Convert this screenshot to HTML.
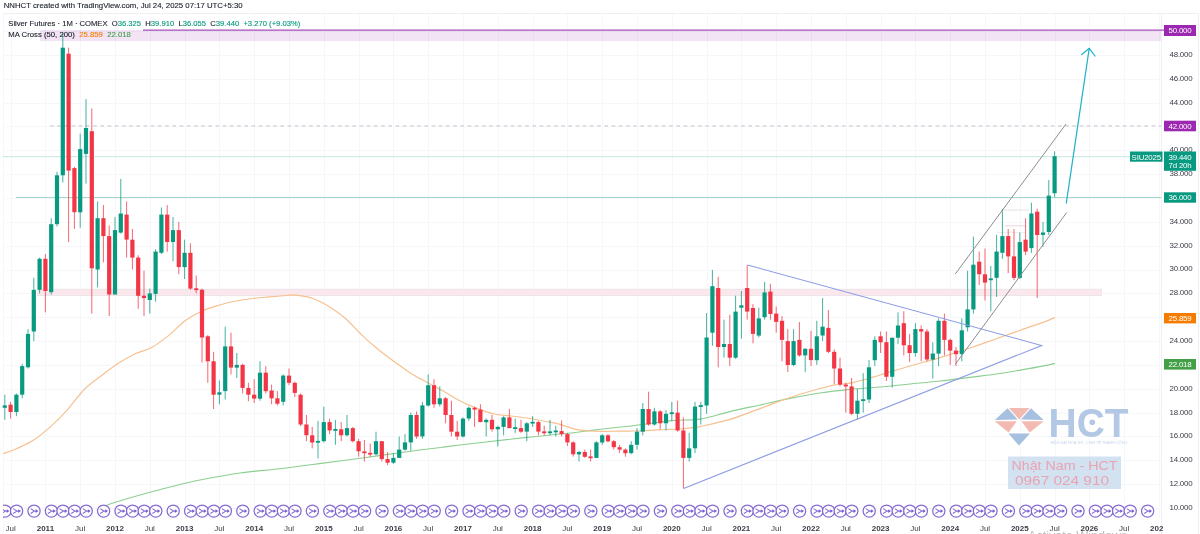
<!DOCTYPE html>
<html lang="en"><head><meta charset="utf-8"><title>Silver Futures chart</title>
<style>html,body{margin:0;padding:0;background:#fff;overflow:hidden}body{width:1200px;height:534px;position:relative;font-family:"Liberation Sans",sans-serif}</style></head>
<body>
<svg width="1200" height="534" viewBox="0 0 1200 534" style="position:absolute;left:0;top:0;display:block">
<rect width="1200" height="534" fill="#fff"/>
<g stroke="#f6f7fa" stroke-width="1" shape-rendering="crispEdges">
<line x1="3" y1="508.5" x2="1161" y2="508.5"/>
<line x1="3" y1="484.5" x2="1161" y2="484.5"/>
<line x1="3" y1="460.5" x2="1161" y2="460.5"/>
<line x1="3" y1="436.5" x2="1161" y2="436.5"/>
<line x1="3" y1="413.5" x2="1161" y2="413.5"/>
<line x1="3" y1="389.5" x2="1161" y2="389.5"/>
<line x1="3" y1="365.5" x2="1161" y2="365.5"/>
<line x1="3" y1="341.5" x2="1161" y2="341.5"/>
<line x1="3" y1="317.5" x2="1161" y2="317.5"/>
<line x1="3" y1="293.5" x2="1161" y2="293.5"/>
<line x1="3" y1="270.5" x2="1161" y2="270.5"/>
<line x1="3" y1="246.5" x2="1161" y2="246.5"/>
<line x1="3" y1="222.5" x2="1161" y2="222.5"/>
<line x1="3" y1="198.5" x2="1161" y2="198.5"/>
<line x1="3" y1="174.5" x2="1161" y2="174.5"/>
<line x1="3" y1="150.5" x2="1161" y2="150.5"/>
<line x1="3" y1="126.5" x2="1161" y2="126.5"/>
<line x1="3" y1="103.5" x2="1161" y2="103.5"/>
<line x1="3" y1="79.5" x2="1161" y2="79.5"/>
<line x1="3" y1="55.5" x2="1161" y2="55.5"/>
<line x1="3" y1="31.5" x2="1161" y2="31.5"/>
<line x1="11.5" y1="13" x2="11.5" y2="518"/>
<line x1="45.5" y1="13" x2="45.5" y2="518"/>
<line x1="80.5" y1="13" x2="80.5" y2="518"/>
<line x1="115.5" y1="13" x2="115.5" y2="518"/>
<line x1="150.5" y1="13" x2="150.5" y2="518"/>
<line x1="185.5" y1="13" x2="185.5" y2="518"/>
<line x1="219.5" y1="13" x2="219.5" y2="518"/>
<line x1="254.5" y1="13" x2="254.5" y2="518"/>
<line x1="289.5" y1="13" x2="289.5" y2="518"/>
<line x1="324.5" y1="13" x2="324.5" y2="518"/>
<line x1="359.5" y1="13" x2="359.5" y2="518"/>
<line x1="393.5" y1="13" x2="393.5" y2="518"/>
<line x1="428.5" y1="13" x2="428.5" y2="518"/>
<line x1="463.5" y1="13" x2="463.5" y2="518"/>
<line x1="498.5" y1="13" x2="498.5" y2="518"/>
<line x1="533.5" y1="13" x2="533.5" y2="518"/>
<line x1="567.5" y1="13" x2="567.5" y2="518"/>
<line x1="602.5" y1="13" x2="602.5" y2="518"/>
<line x1="637.5" y1="13" x2="637.5" y2="518"/>
<line x1="672.5" y1="13" x2="672.5" y2="518"/>
<line x1="707.5" y1="13" x2="707.5" y2="518"/>
<line x1="741.5" y1="13" x2="741.5" y2="518"/>
<line x1="776.5" y1="13" x2="776.5" y2="518"/>
<line x1="811.5" y1="13" x2="811.5" y2="518"/>
<line x1="846.5" y1="13" x2="846.5" y2="518"/>
<line x1="881.5" y1="13" x2="881.5" y2="518"/>
<line x1="915.5" y1="13" x2="915.5" y2="518"/>
<line x1="950.5" y1="13" x2="950.5" y2="518"/>
<line x1="985.5" y1="13" x2="985.5" y2="518"/>
<line x1="1020.5" y1="13" x2="1020.5" y2="518"/>
<line x1="1055.5" y1="13" x2="1055.5" y2="518"/>
<line x1="1089.5" y1="13" x2="1089.5" y2="518"/>
<line x1="1124.5" y1="13" x2="1124.5" y2="518"/>
<line x1="1159.5" y1="13" x2="1159.5" y2="518"/>
</g>
<g stroke="#eff0f4" stroke-width="1" shape-rendering="crispEdges"><line x1="3" y1="13.5" x2="1198" y2="13.5"/><line x1="1161.5" y1="13" x2="1161.5" y2="534"/><line x1="1198.5" y1="13" x2="1198.5" y2="534"/><line x1="3.5" y1="13" x2="3.5" y2="534" stroke="#f6f7fa"/></g>
<rect x="40" y="30" width="1121" height="11" fill="#9c27b0" fill-opacity="0.13"/>
<line x1="143" y1="30.2" x2="1164" y2="30.2" stroke="#a552b8" stroke-width="1.2"/>
<rect x="37" y="289.2" width="1065" height="6.4" fill="#fae8ec"/>
<path d="M37,289.3 H1102 M37,295.6 H1102" fill="none" stroke="#e6dfe6" stroke-width="0.8"/>
<line x1="50" y1="126" x2="1161" y2="126" stroke="#c6c0cc" stroke-width="1.1" stroke-dasharray="3.6 3.6"/>
<line x1="16" y1="197.5" x2="1161" y2="197.5" stroke="#a5d6cc" stroke-width="1.2"/>
<line x1="3" y1="156.7" x2="1161" y2="156.7" stroke="#bfe3dc" stroke-width="0.9"/>
<line x1="1002" y1="210" x2="1029" y2="210" stroke="#e2e2e2" stroke-width="1"/>
<line x1="1005" y1="225.8" x2="1026" y2="225.8" stroke="#f3dde3" stroke-width="1.3"/>
<line x1="997" y1="232.7" x2="1025" y2="232.7" stroke="#ececec" stroke-width="1"/>
<path d="M104.0,507.0 C105.0,506.5 104.0,506.0 110.0,504.0 C116.0,502.0 130.0,497.8 140.0,495.0 C150.0,492.2 160.0,489.5 170.0,487.0 C180.0,484.5 188.3,482.3 200.0,480.0 C211.7,477.7 226.7,474.9 240.0,473.0 C253.3,471.1 266.5,470.3 280.0,468.7 C293.5,467.1 307.5,465.2 321.2,463.4 C334.9,461.6 348.7,459.9 362.4,458.0 C376.1,456.1 389.9,454.1 403.6,452.2 C417.3,450.3 431.1,448.6 444.8,446.9 C458.5,445.2 472.3,443.6 486.0,442.0 C499.7,440.4 513.5,438.8 527.2,437.4 C540.9,435.9 556.7,434.6 568.4,433.3 C580.1,432.0 586.4,430.9 597.5,429.6 C608.6,428.3 622.6,427.0 635.0,425.5 C647.4,424.0 661.2,421.7 672.0,420.6 C682.8,419.5 690.3,420.6 700.0,419.1 C709.7,417.6 720.0,414.0 730.0,411.6 C740.0,409.2 750.0,407.2 760.0,405.0 C770.0,402.8 780.0,400.4 790.0,398.4 C800.0,396.4 810.0,394.5 820.0,393.0 C830.0,391.5 840.0,390.4 850.0,389.4 C860.0,388.4 870.0,387.9 880.0,387.0 C890.0,386.1 900.0,385.0 910.0,384.0 C920.0,383.0 930.0,382.1 940.0,381.0 C950.0,379.9 960.0,378.6 970.0,377.4 C980.0,376.1 990.0,375.0 1000.0,373.5 C1010.0,372.0 1020.8,370.0 1030.0,368.4 C1039.2,366.8 1050.8,364.4 1055.0,363.6" fill="none" stroke="#8ccf90" stroke-width="1.1"/>
<path d="M3.4,453.6 C5.6,452.8 11.8,450.8 16.9,448.5 C21.9,446.2 28.1,443.6 33.7,440.0 C39.3,436.4 45.0,431.6 50.6,426.6 C56.2,421.6 61.8,416.0 67.4,409.8 C73.0,403.6 78.7,395.1 84.3,389.5 C89.9,383.9 95.4,380.3 101.0,376.0 C106.6,371.7 112.4,367.3 118.0,363.6 C123.6,359.9 129.2,356.7 134.8,354.0 C140.4,351.3 146.1,350.5 151.7,347.4 C157.3,344.3 162.9,340.1 168.5,335.6 C174.1,331.1 179.8,324.5 185.4,320.4 C191.0,316.3 196.6,313.5 202.2,311.0 C207.8,308.5 213.4,307.0 219.0,305.3 C224.6,303.6 230.4,302.1 236.0,301.0 C241.6,299.9 247.2,299.2 252.8,298.5 C258.4,297.8 264.0,297.4 269.6,296.9 C275.2,296.4 282.0,295.8 286.5,295.5 C291.0,295.2 292.1,294.7 296.5,295.2 C300.9,295.7 307.5,296.6 313.0,298.5 C318.5,300.4 323.9,303.4 329.4,306.8 C334.9,310.2 340.5,314.2 346.0,319.0 C351.5,323.8 356.9,330.4 362.4,335.6 C367.9,340.8 373.4,345.5 378.9,350.0 C384.4,354.5 389.9,358.4 395.4,362.4 C400.9,366.4 406.4,370.6 411.9,374.0 C417.4,377.4 422.8,380.0 428.3,383.0 C433.8,386.0 439.3,388.9 444.8,392.0 C450.3,395.1 455.8,398.7 461.3,401.5 C466.8,404.3 472.3,406.5 477.8,408.6 C483.3,410.7 488.8,412.8 494.3,414.0 C499.8,415.2 505.2,415.3 510.7,416.0 C516.2,416.7 521.7,417.2 527.2,418.0 C532.7,418.8 538.2,419.9 543.7,421.0 C549.2,422.1 555.0,423.0 560.2,424.4 C565.4,425.8 570.0,428.1 575.0,429.2 C580.0,430.3 585.0,430.6 590.0,431.0 C595.0,431.4 600.0,431.3 605.0,431.3 C610.0,431.3 615.0,431.2 620.0,431.2 C625.0,431.1 630.0,431.1 635.0,431.0 C640.0,430.9 645.0,430.6 650.0,430.3 C655.0,430.1 660.0,429.7 665.0,429.5 C670.0,429.3 675.0,429.4 680.0,429.0 C685.0,428.6 691.7,427.7 695.0,427.3 C698.3,426.9 694.2,427.9 700.0,426.6 C705.8,425.3 720.0,422.4 730.0,419.4 C740.0,416.4 750.0,412.2 760.0,408.6 C770.0,405.0 780.0,400.9 790.0,397.5 C800.0,394.1 812.5,390.6 820.0,388.5 C827.5,386.4 830.0,385.7 835.0,384.8 C840.0,383.9 845.0,384.1 850.0,383.2 C855.0,382.3 860.0,380.9 865.0,379.5 C870.0,378.1 872.5,377.2 880.0,375.0 C887.5,372.8 900.0,368.9 910.0,366.0 C920.0,363.1 930.0,360.6 940.0,357.6 C950.0,354.6 960.0,351.4 970.0,348.0 C980.0,344.6 991.5,340.5 1000.0,337.5 C1008.5,334.5 1013.4,332.7 1021.0,330.0 C1028.6,327.3 1040.1,323.5 1045.8,321.4 C1051.5,319.3 1053.5,318.0 1055.0,317.3" fill="none" stroke="#f7c08f" stroke-width="1.2"/>
<g>
<line x1="4.80" y1="394.7" x2="4.80" y2="419.8" stroke="#089981" stroke-width="0.9" stroke-opacity="0.85"/>
<rect x="2.70" y="405.4" width="4.2" height="2.4" fill="#089981"/>
<line x1="10.60" y1="401.9" x2="10.60" y2="418.6" stroke="#f23645" stroke-width="0.9" stroke-opacity="0.85"/>
<rect x="8.50" y="404.7" width="4.2" height="7.3" fill="#f23645"/>
<line x1="16.40" y1="393.5" x2="16.40" y2="416.2" stroke="#089981" stroke-width="0.9" stroke-opacity="0.85"/>
<rect x="14.30" y="394.7" width="4.2" height="17.3" fill="#089981"/>
<line x1="22.20" y1="363.7" x2="22.20" y2="398.3" stroke="#089981" stroke-width="0.9" stroke-opacity="0.85"/>
<rect x="20.10" y="366.1" width="4.2" height="28.6" fill="#089981"/>
<line x1="28.00" y1="329.1" x2="28.00" y2="368.5" stroke="#089981" stroke-width="0.9" stroke-opacity="0.85"/>
<rect x="25.90" y="333.9" width="4.2" height="33.4" fill="#089981"/>
<line x1="33.80" y1="277.8" x2="33.80" y2="341.1" stroke="#089981" stroke-width="0.9" stroke-opacity="0.85"/>
<rect x="31.70" y="289.8" width="4.2" height="41.7" fill="#089981"/>
<line x1="39.60" y1="257.6" x2="39.60" y2="293.4" stroke="#089981" stroke-width="0.9" stroke-opacity="0.85"/>
<rect x="37.50" y="258.8" width="4.2" height="31.0" fill="#089981"/>
<line x1="45.40" y1="254.0" x2="45.40" y2="312.4" stroke="#f23645" stroke-width="0.9" stroke-opacity="0.85"/>
<rect x="43.30" y="258.8" width="4.2" height="32.2" fill="#f23645"/>
<line x1="51.20" y1="218.2" x2="51.20" y2="294.5" stroke="#089981" stroke-width="0.9" stroke-opacity="0.85"/>
<rect x="49.10" y="224.2" width="4.2" height="68.0" fill="#089981"/>
<line x1="57.00" y1="171.7" x2="57.00" y2="226.6" stroke="#089981" stroke-width="0.9" stroke-opacity="0.85"/>
<rect x="54.90" y="175.3" width="4.2" height="48.9" fill="#089981"/>
<line x1="62.80" y1="33.4" x2="62.80" y2="182.4" stroke="#089981" stroke-width="0.9" stroke-opacity="0.85"/>
<rect x="60.70" y="47.7" width="4.2" height="127.6" fill="#089981"/>
<line x1="68.60" y1="47.7" x2="68.60" y2="242.1" stroke="#f23645" stroke-width="0.9" stroke-opacity="0.85"/>
<rect x="66.50" y="53.7" width="4.2" height="116.9" fill="#f23645"/>
<line x1="74.40" y1="166.9" x2="74.40" y2="229.0" stroke="#f23645" stroke-width="0.9" stroke-opacity="0.85"/>
<rect x="72.30" y="168.1" width="4.2" height="44.1" fill="#f23645"/>
<line x1="80.20" y1="133.6" x2="80.20" y2="227.8" stroke="#089981" stroke-width="0.9" stroke-opacity="0.85"/>
<rect x="78.10" y="149.1" width="4.2" height="63.2" fill="#089981"/>
<line x1="86.00" y1="99.0" x2="86.00" y2="183.6" stroke="#089981" stroke-width="0.9" stroke-opacity="0.85"/>
<rect x="83.90" y="128.0" width="4.2" height="25.9" fill="#089981"/>
<line x1="91.80" y1="108.5" x2="91.80" y2="313.6" stroke="#f23645" stroke-width="0.9" stroke-opacity="0.85"/>
<rect x="89.70" y="131.2" width="4.2" height="137.1" fill="#f23645"/>
<line x1="97.60" y1="201.5" x2="97.60" y2="287.4" stroke="#089981" stroke-width="0.9" stroke-opacity="0.85"/>
<rect x="95.50" y="218.2" width="4.2" height="51.3" fill="#089981"/>
<line x1="103.40" y1="205.1" x2="103.40" y2="262.3" stroke="#f23645" stroke-width="0.9" stroke-opacity="0.85"/>
<rect x="101.30" y="218.2" width="4.2" height="17.9" fill="#f23645"/>
<line x1="109.20" y1="225.4" x2="109.20" y2="316.0" stroke="#f23645" stroke-width="0.9" stroke-opacity="0.85"/>
<rect x="107.10" y="236.1" width="4.2" height="58.4" fill="#f23645"/>
<line x1="115.00" y1="217.0" x2="115.00" y2="294.5" stroke="#089981" stroke-width="0.9" stroke-opacity="0.85"/>
<rect x="112.90" y="230.1" width="4.2" height="64.4" fill="#089981"/>
<line x1="120.80" y1="178.9" x2="120.80" y2="233.7" stroke="#089981" stroke-width="0.9" stroke-opacity="0.85"/>
<rect x="118.70" y="213.5" width="4.2" height="19.1" fill="#089981"/>
<line x1="126.60" y1="201.5" x2="126.60" y2="257.6" stroke="#f23645" stroke-width="0.9" stroke-opacity="0.85"/>
<rect x="124.50" y="214.6" width="4.2" height="25.0" fill="#f23645"/>
<line x1="132.40" y1="229.0" x2="132.40" y2="269.5" stroke="#f23645" stroke-width="0.9" stroke-opacity="0.85"/>
<rect x="130.30" y="239.7" width="4.2" height="17.9" fill="#f23645"/>
<line x1="138.20" y1="255.2" x2="138.20" y2="308.9" stroke="#f23645" stroke-width="0.9" stroke-opacity="0.85"/>
<rect x="136.10" y="257.6" width="4.2" height="38.2" fill="#f23645"/>
<line x1="144.00" y1="270.7" x2="144.00" y2="316.0" stroke="#f23645" stroke-width="0.9" stroke-opacity="0.85"/>
<rect x="141.90" y="295.7" width="4.2" height="2.4" fill="#f23645"/>
<line x1="149.80" y1="288.6" x2="149.80" y2="313.6" stroke="#089981" stroke-width="0.9" stroke-opacity="0.85"/>
<rect x="147.70" y="293.4" width="4.2" height="6.6" fill="#089981"/>
<line x1="155.60" y1="249.2" x2="155.60" y2="301.7" stroke="#089981" stroke-width="0.9" stroke-opacity="0.85"/>
<rect x="153.50" y="251.6" width="4.2" height="42.3" fill="#089981"/>
<line x1="161.40" y1="207.5" x2="161.40" y2="254.0" stroke="#089981" stroke-width="0.9" stroke-opacity="0.85"/>
<rect x="159.30" y="214.6" width="4.2" height="38.2" fill="#089981"/>
<line x1="167.20" y1="205.1" x2="167.20" y2="251.6" stroke="#f23645" stroke-width="0.9" stroke-opacity="0.85"/>
<rect x="165.10" y="214.6" width="4.2" height="27.4" fill="#f23645"/>
<line x1="173.00" y1="217.0" x2="173.00" y2="261.2" stroke="#089981" stroke-width="0.9" stroke-opacity="0.85"/>
<rect x="170.90" y="230.1" width="4.2" height="11.9" fill="#089981"/>
<line x1="178.80" y1="221.8" x2="178.80" y2="274.3" stroke="#f23645" stroke-width="0.9" stroke-opacity="0.85"/>
<rect x="176.70" y="230.1" width="4.2" height="37.0" fill="#f23645"/>
<line x1="184.60" y1="239.7" x2="184.60" y2="279.0" stroke="#089981" stroke-width="0.9" stroke-opacity="0.85"/>
<rect x="182.50" y="252.8" width="4.2" height="14.3" fill="#089981"/>
<line x1="190.40" y1="243.3" x2="190.40" y2="289.8" stroke="#f23645" stroke-width="0.9" stroke-opacity="0.85"/>
<rect x="188.30" y="252.8" width="4.2" height="35.8" fill="#f23645"/>
<line x1="196.20" y1="275.5" x2="196.20" y2="293.4" stroke="#f23645" stroke-width="0.9" stroke-opacity="0.85"/>
<rect x="194.10" y="288.3" width="4.2" height="1.8" fill="#f23645"/>
<line x1="202.00" y1="288.6" x2="202.00" y2="362.5" stroke="#f23645" stroke-width="0.9" stroke-opacity="0.85"/>
<rect x="199.90" y="289.8" width="4.2" height="47.7" fill="#f23645"/>
<line x1="207.80" y1="335.1" x2="207.80" y2="382.8" stroke="#f23645" stroke-width="0.9" stroke-opacity="0.85"/>
<rect x="205.70" y="336.3" width="4.2" height="25.0" fill="#f23645"/>
<line x1="213.60" y1="351.8" x2="213.60" y2="409.0" stroke="#f23645" stroke-width="0.9" stroke-opacity="0.85"/>
<rect x="211.50" y="361.3" width="4.2" height="33.4" fill="#f23645"/>
<line x1="219.40" y1="380.4" x2="219.40" y2="404.3" stroke="#089981" stroke-width="0.9" stroke-opacity="0.85"/>
<rect x="217.30" y="392.3" width="4.2" height="2.4" fill="#089981"/>
<line x1="225.20" y1="326.7" x2="225.20" y2="399.5" stroke="#089981" stroke-width="0.9" stroke-opacity="0.85"/>
<rect x="223.10" y="346.4" width="4.2" height="44.7" fill="#089981"/>
<line x1="231.00" y1="332.7" x2="231.00" y2="374.4" stroke="#f23645" stroke-width="0.9" stroke-opacity="0.85"/>
<rect x="228.90" y="346.4" width="4.2" height="21.2" fill="#f23645"/>
<line x1="236.80" y1="353.0" x2="236.80" y2="378.0" stroke="#089981" stroke-width="0.9" stroke-opacity="0.85"/>
<rect x="234.70" y="364.9" width="4.2" height="2.7" fill="#089981"/>
<line x1="242.60" y1="363.7" x2="242.60" y2="393.5" stroke="#f23645" stroke-width="0.9" stroke-opacity="0.85"/>
<rect x="240.50" y="364.9" width="4.2" height="23.0" fill="#f23645"/>
<line x1="248.40" y1="382.8" x2="248.40" y2="401.3" stroke="#f23645" stroke-width="0.9" stroke-opacity="0.85"/>
<rect x="246.30" y="387.9" width="4.2" height="6.8" fill="#f23645"/>
<line x1="254.20" y1="379.2" x2="254.20" y2="403.1" stroke="#f23645" stroke-width="0.9" stroke-opacity="0.85"/>
<rect x="252.10" y="394.7" width="4.2" height="3.9" fill="#f23645"/>
<line x1="260.00" y1="361.3" x2="260.00" y2="400.7" stroke="#089981" stroke-width="0.9" stroke-opacity="0.85"/>
<rect x="257.90" y="372.7" width="4.2" height="26.0" fill="#089981"/>
<line x1="265.80" y1="366.1" x2="265.80" y2="393.5" stroke="#f23645" stroke-width="0.9" stroke-opacity="0.85"/>
<rect x="263.70" y="372.7" width="4.2" height="18.5" fill="#f23645"/>
<line x1="271.60" y1="384.6" x2="271.60" y2="404.3" stroke="#f23645" stroke-width="0.9" stroke-opacity="0.85"/>
<rect x="269.50" y="390.5" width="4.2" height="7.8" fill="#f23645"/>
<line x1="277.40" y1="391.1" x2="277.40" y2="405.4" stroke="#f23645" stroke-width="0.9" stroke-opacity="0.85"/>
<rect x="275.30" y="398.3" width="4.2" height="5.4" fill="#f23645"/>
<line x1="283.20" y1="374.4" x2="283.20" y2="405.4" stroke="#089981" stroke-width="0.9" stroke-opacity="0.85"/>
<rect x="281.10" y="375.6" width="4.2" height="26.2" fill="#089981"/>
<line x1="289.00" y1="368.5" x2="289.00" y2="385.2" stroke="#f23645" stroke-width="0.9" stroke-opacity="0.85"/>
<rect x="286.90" y="375.6" width="4.2" height="7.2" fill="#f23645"/>
<line x1="294.80" y1="381.6" x2="294.80" y2="397.1" stroke="#f23645" stroke-width="0.9" stroke-opacity="0.85"/>
<rect x="292.70" y="382.8" width="4.2" height="10.1" fill="#f23645"/>
<line x1="300.60" y1="393.5" x2="300.60" y2="426.3" stroke="#f23645" stroke-width="0.9" stroke-opacity="0.85"/>
<rect x="298.50" y="394.7" width="4.2" height="29.8" fill="#f23645"/>
<line x1="306.40" y1="415.0" x2="306.40" y2="441.2" stroke="#f23645" stroke-width="0.9" stroke-opacity="0.85"/>
<rect x="304.30" y="424.5" width="4.2" height="10.7" fill="#f23645"/>
<line x1="312.20" y1="426.9" x2="312.20" y2="448.4" stroke="#f23645" stroke-width="0.9" stroke-opacity="0.85"/>
<rect x="310.10" y="435.3" width="4.2" height="7.2" fill="#f23645"/>
<line x1="318.00" y1="420.9" x2="318.00" y2="458.5" stroke="#089981" stroke-width="0.9" stroke-opacity="0.85"/>
<rect x="315.90" y="440.9" width="4.2" height="1.8" fill="#089981"/>
<line x1="323.80" y1="406.6" x2="323.80" y2="442.4" stroke="#089981" stroke-width="0.9" stroke-opacity="0.85"/>
<rect x="321.70" y="422.1" width="4.2" height="19.1" fill="#089981"/>
<line x1="329.60" y1="418.6" x2="329.60" y2="434.1" stroke="#f23645" stroke-width="0.9" stroke-opacity="0.85"/>
<rect x="327.50" y="422.1" width="4.2" height="8.3" fill="#f23645"/>
<line x1="335.40" y1="419.8" x2="335.40" y2="444.8" stroke="#089981" stroke-width="0.9" stroke-opacity="0.85"/>
<rect x="333.30" y="429.0" width="4.2" height="1.8" fill="#089981"/>
<line x1="341.20" y1="422.1" x2="341.20" y2="441.2" stroke="#f23645" stroke-width="0.9" stroke-opacity="0.85"/>
<rect x="339.10" y="429.3" width="4.2" height="6.0" fill="#f23645"/>
<line x1="347.00" y1="415.0" x2="347.00" y2="436.5" stroke="#089981" stroke-width="0.9" stroke-opacity="0.85"/>
<rect x="344.90" y="428.1" width="4.2" height="7.2" fill="#089981"/>
<line x1="352.80" y1="426.9" x2="352.80" y2="442.4" stroke="#f23645" stroke-width="0.9" stroke-opacity="0.85"/>
<rect x="350.70" y="428.1" width="4.2" height="13.1" fill="#f23645"/>
<line x1="358.60" y1="438.8" x2="358.60" y2="456.7" stroke="#f23645" stroke-width="0.9" stroke-opacity="0.85"/>
<rect x="356.50" y="441.2" width="4.2" height="10.1" fill="#f23645"/>
<line x1="364.40" y1="440.0" x2="364.40" y2="461.5" stroke="#f23645" stroke-width="0.9" stroke-opacity="0.85"/>
<rect x="362.30" y="451.4" width="4.2" height="1.8" fill="#f23645"/>
<line x1="370.20" y1="443.6" x2="370.20" y2="456.7" stroke="#f23645" stroke-width="0.9" stroke-opacity="0.85"/>
<rect x="368.10" y="452.8" width="4.2" height="1.8" fill="#f23645"/>
<line x1="376.00" y1="431.7" x2="376.00" y2="455.5" stroke="#089981" stroke-width="0.9" stroke-opacity="0.85"/>
<rect x="373.90" y="441.2" width="4.2" height="13.1" fill="#089981"/>
<line x1="381.80" y1="441.2" x2="381.80" y2="461.5" stroke="#f23645" stroke-width="0.9" stroke-opacity="0.85"/>
<rect x="379.70" y="441.2" width="4.2" height="17.9" fill="#f23645"/>
<line x1="387.60" y1="452.0" x2="387.60" y2="465.1" stroke="#f23645" stroke-width="0.9" stroke-opacity="0.85"/>
<rect x="385.50" y="459.1" width="4.2" height="3.6" fill="#f23645"/>
<line x1="393.40" y1="453.1" x2="393.40" y2="463.9" stroke="#089981" stroke-width="0.9" stroke-opacity="0.85"/>
<rect x="391.30" y="457.9" width="4.2" height="4.8" fill="#089981"/>
<line x1="399.20" y1="436.5" x2="399.20" y2="457.9" stroke="#089981" stroke-width="0.9" stroke-opacity="0.85"/>
<rect x="397.10" y="449.6" width="4.2" height="8.3" fill="#089981"/>
<line x1="405.00" y1="434.1" x2="405.00" y2="450.8" stroke="#089981" stroke-width="0.9" stroke-opacity="0.85"/>
<rect x="402.90" y="442.4" width="4.2" height="7.2" fill="#089981"/>
<line x1="410.80" y1="412.6" x2="410.80" y2="450.8" stroke="#089981" stroke-width="0.9" stroke-opacity="0.85"/>
<rect x="408.70" y="415.0" width="4.2" height="27.4" fill="#089981"/>
<line x1="416.60" y1="411.4" x2="416.60" y2="438.8" stroke="#f23645" stroke-width="0.9" stroke-opacity="0.85"/>
<rect x="414.50" y="415.0" width="4.2" height="21.5" fill="#f23645"/>
<line x1="422.40" y1="401.9" x2="422.40" y2="438.8" stroke="#089981" stroke-width="0.9" stroke-opacity="0.85"/>
<rect x="420.30" y="405.4" width="4.2" height="31.0" fill="#089981"/>
<line x1="428.20" y1="374.4" x2="428.20" y2="406.6" stroke="#089981" stroke-width="0.9" stroke-opacity="0.85"/>
<rect x="426.10" y="385.2" width="4.2" height="20.3" fill="#089981"/>
<line x1="434.00" y1="379.2" x2="434.00" y2="407.8" stroke="#f23645" stroke-width="0.9" stroke-opacity="0.85"/>
<rect x="431.90" y="385.2" width="4.2" height="19.1" fill="#f23645"/>
<line x1="439.80" y1="386.4" x2="439.80" y2="406.6" stroke="#089981" stroke-width="0.9" stroke-opacity="0.85"/>
<rect x="437.70" y="398.3" width="4.2" height="6.0" fill="#089981"/>
<line x1="445.60" y1="397.1" x2="445.60" y2="423.3" stroke="#f23645" stroke-width="0.9" stroke-opacity="0.85"/>
<rect x="443.50" y="398.3" width="4.2" height="16.7" fill="#f23645"/>
<line x1="451.40" y1="400.7" x2="451.40" y2="436.5" stroke="#f23645" stroke-width="0.9" stroke-opacity="0.85"/>
<rect x="449.30" y="415.0" width="4.2" height="16.7" fill="#f23645"/>
<line x1="457.20" y1="420.9" x2="457.20" y2="440.0" stroke="#f23645" stroke-width="0.9" stroke-opacity="0.85"/>
<rect x="455.10" y="431.7" width="4.2" height="4.8" fill="#f23645"/>
<line x1="463.00" y1="417.4" x2="463.00" y2="437.6" stroke="#089981" stroke-width="0.9" stroke-opacity="0.85"/>
<rect x="460.90" y="418.6" width="4.2" height="17.9" fill="#089981"/>
<line x1="468.80" y1="406.6" x2="468.80" y2="420.9" stroke="#089981" stroke-width="0.9" stroke-opacity="0.85"/>
<rect x="466.70" y="407.8" width="4.2" height="10.7" fill="#089981"/>
<line x1="474.60" y1="406.6" x2="474.60" y2="426.9" stroke="#f23645" stroke-width="0.9" stroke-opacity="0.85"/>
<rect x="472.50" y="407.8" width="4.2" height="1.8" fill="#f23645"/>
<line x1="480.40" y1="404.3" x2="480.40" y2="422.1" stroke="#f23645" stroke-width="0.9" stroke-opacity="0.85"/>
<rect x="478.30" y="409.6" width="4.2" height="12.5" fill="#f23645"/>
<line x1="486.20" y1="418.6" x2="486.20" y2="436.5" stroke="#089981" stroke-width="0.9" stroke-opacity="0.85"/>
<rect x="484.10" y="419.8" width="4.2" height="2.4" fill="#089981"/>
<line x1="492.00" y1="415.0" x2="492.00" y2="431.7" stroke="#f23645" stroke-width="0.9" stroke-opacity="0.85"/>
<rect x="489.90" y="419.8" width="4.2" height="9.5" fill="#f23645"/>
<line x1="497.80" y1="425.7" x2="497.80" y2="446.6" stroke="#089981" stroke-width="0.9" stroke-opacity="0.85"/>
<rect x="495.70" y="426.9" width="4.2" height="2.4" fill="#089981"/>
<line x1="503.60" y1="416.2" x2="503.60" y2="435.3" stroke="#089981" stroke-width="0.9" stroke-opacity="0.85"/>
<rect x="501.50" y="417.4" width="4.2" height="9.5" fill="#089981"/>
<line x1="509.40" y1="409.0" x2="509.40" y2="428.1" stroke="#f23645" stroke-width="0.9" stroke-opacity="0.85"/>
<rect x="507.30" y="417.4" width="4.2" height="10.7" fill="#f23645"/>
<line x1="515.20" y1="418.6" x2="515.20" y2="432.9" stroke="#089981" stroke-width="0.9" stroke-opacity="0.85"/>
<rect x="513.10" y="427.2" width="4.2" height="1.8" fill="#089981"/>
<line x1="521.00" y1="419.8" x2="521.00" y2="432.9" stroke="#f23645" stroke-width="0.9" stroke-opacity="0.85"/>
<rect x="518.90" y="428.1" width="4.2" height="3.6" fill="#f23645"/>
<line x1="526.80" y1="422.1" x2="526.80" y2="441.2" stroke="#089981" stroke-width="0.9" stroke-opacity="0.85"/>
<rect x="524.70" y="423.3" width="4.2" height="8.3" fill="#089981"/>
<line x1="532.60" y1="416.2" x2="532.60" y2="426.9" stroke="#089981" stroke-width="0.9" stroke-opacity="0.85"/>
<rect x="530.50" y="421.8" width="4.2" height="1.8" fill="#089981"/>
<line x1="538.40" y1="420.9" x2="538.40" y2="435.3" stroke="#f23645" stroke-width="0.9" stroke-opacity="0.85"/>
<rect x="536.30" y="422.1" width="4.2" height="9.5" fill="#f23645"/>
<line x1="544.20" y1="425.7" x2="544.20" y2="435.3" stroke="#f23645" stroke-width="0.9" stroke-opacity="0.85"/>
<rect x="542.10" y="431.4" width="4.2" height="1.8" fill="#f23645"/>
<line x1="550.00" y1="419.8" x2="550.00" y2="435.3" stroke="#089981" stroke-width="0.9" stroke-opacity="0.85"/>
<rect x="547.90" y="431.4" width="4.2" height="1.8" fill="#089981"/>
<line x1="555.80" y1="425.7" x2="555.80" y2="436.5" stroke="#089981" stroke-width="0.9" stroke-opacity="0.85"/>
<rect x="553.70" y="430.5" width="4.2" height="1.8" fill="#089981"/>
<line x1="561.60" y1="420.4" x2="561.60" y2="436.5" stroke="#f23645" stroke-width="0.9" stroke-opacity="0.85"/>
<rect x="559.50" y="431.1" width="4.2" height="3.0" fill="#f23645"/>
<line x1="567.40" y1="432.9" x2="567.40" y2="446.0" stroke="#f23645" stroke-width="0.9" stroke-opacity="0.85"/>
<rect x="565.30" y="434.1" width="4.2" height="8.3" fill="#f23645"/>
<line x1="573.20" y1="441.2" x2="573.20" y2="456.7" stroke="#f23645" stroke-width="0.9" stroke-opacity="0.85"/>
<rect x="571.10" y="442.4" width="4.2" height="11.9" fill="#f23645"/>
<line x1="579.00" y1="450.8" x2="579.00" y2="461.5" stroke="#089981" stroke-width="0.9" stroke-opacity="0.85"/>
<rect x="576.90" y="452.0" width="4.2" height="2.4" fill="#089981"/>
<line x1="584.80" y1="449.6" x2="584.80" y2="457.9" stroke="#f23645" stroke-width="0.9" stroke-opacity="0.85"/>
<rect x="582.70" y="452.0" width="4.2" height="4.8" fill="#f23645"/>
<line x1="590.60" y1="449.6" x2="590.60" y2="461.5" stroke="#f23645" stroke-width="0.9" stroke-opacity="0.85"/>
<rect x="588.50" y="456.4" width="4.2" height="1.8" fill="#f23645"/>
<line x1="596.40" y1="441.2" x2="596.40" y2="457.9" stroke="#089981" stroke-width="0.9" stroke-opacity="0.85"/>
<rect x="594.30" y="442.4" width="4.2" height="15.5" fill="#089981"/>
<line x1="602.20" y1="434.1" x2="602.20" y2="444.8" stroke="#089981" stroke-width="0.9" stroke-opacity="0.85"/>
<rect x="600.10" y="435.3" width="4.2" height="7.2" fill="#089981"/>
<line x1="608.00" y1="434.1" x2="608.00" y2="442.4" stroke="#f23645" stroke-width="0.9" stroke-opacity="0.85"/>
<rect x="605.90" y="435.3" width="4.2" height="6.0" fill="#f23645"/>
<line x1="613.80" y1="440.0" x2="613.80" y2="449.6" stroke="#f23645" stroke-width="0.9" stroke-opacity="0.85"/>
<rect x="611.70" y="441.2" width="4.2" height="6.0" fill="#f23645"/>
<line x1="619.60" y1="444.8" x2="619.60" y2="453.1" stroke="#f23645" stroke-width="0.9" stroke-opacity="0.85"/>
<rect x="617.50" y="447.2" width="4.2" height="2.4" fill="#f23645"/>
<line x1="625.40" y1="448.4" x2="625.40" y2="456.7" stroke="#f23645" stroke-width="0.9" stroke-opacity="0.85"/>
<rect x="623.30" y="449.6" width="4.2" height="3.6" fill="#f23645"/>
<line x1="631.20" y1="441.2" x2="631.20" y2="454.3" stroke="#089981" stroke-width="0.9" stroke-opacity="0.85"/>
<rect x="629.10" y="444.8" width="4.2" height="8.3" fill="#089981"/>
<line x1="637.00" y1="428.1" x2="637.00" y2="449.6" stroke="#089981" stroke-width="0.9" stroke-opacity="0.85"/>
<rect x="634.90" y="431.7" width="4.2" height="13.1" fill="#089981"/>
<line x1="642.80" y1="403.1" x2="642.80" y2="435.3" stroke="#089981" stroke-width="0.9" stroke-opacity="0.85"/>
<rect x="640.70" y="409.0" width="4.2" height="22.7" fill="#089981"/>
<line x1="648.60" y1="391.7" x2="648.60" y2="425.7" stroke="#f23645" stroke-width="0.9" stroke-opacity="0.85"/>
<rect x="646.50" y="409.0" width="4.2" height="15.5" fill="#f23645"/>
<line x1="654.40" y1="407.8" x2="654.40" y2="425.7" stroke="#089981" stroke-width="0.9" stroke-opacity="0.85"/>
<rect x="652.30" y="411.4" width="4.2" height="13.1" fill="#089981"/>
<line x1="660.20" y1="410.2" x2="660.20" y2="429.3" stroke="#f23645" stroke-width="0.9" stroke-opacity="0.85"/>
<rect x="658.10" y="411.4" width="4.2" height="11.9" fill="#f23645"/>
<line x1="666.00" y1="410.2" x2="666.00" y2="430.5" stroke="#089981" stroke-width="0.9" stroke-opacity="0.85"/>
<rect x="663.90" y="413.8" width="4.2" height="9.5" fill="#089981"/>
<line x1="671.80" y1="401.9" x2="671.80" y2="420.9" stroke="#089981" stroke-width="0.9" stroke-opacity="0.85"/>
<rect x="669.70" y="412.3" width="4.2" height="1.8" fill="#089981"/>
<line x1="677.60" y1="400.7" x2="677.60" y2="431.7" stroke="#f23645" stroke-width="0.9" stroke-opacity="0.85"/>
<rect x="675.50" y="412.6" width="4.2" height="17.9" fill="#f23645"/>
<line x1="683.40" y1="417.4" x2="683.40" y2="488.4" stroke="#f23645" stroke-width="0.9" stroke-opacity="0.85"/>
<rect x="681.30" y="430.5" width="4.2" height="27.4" fill="#f23645"/>
<line x1="689.20" y1="432.9" x2="689.20" y2="461.5" stroke="#089981" stroke-width="0.9" stroke-opacity="0.85"/>
<rect x="687.10" y="448.4" width="4.2" height="9.5" fill="#089981"/>
<line x1="695.00" y1="401.9" x2="695.00" y2="453.1" stroke="#089981" stroke-width="0.9" stroke-opacity="0.85"/>
<rect x="692.90" y="406.6" width="4.2" height="41.7" fill="#089981"/>
<line x1="700.80" y1="401.9" x2="700.80" y2="424.5" stroke="#089981" stroke-width="0.9" stroke-opacity="0.85"/>
<rect x="698.70" y="405.1" width="4.2" height="1.8" fill="#089981"/>
<line x1="706.60" y1="313.0" x2="706.60" y2="413.8" stroke="#089981" stroke-width="0.9" stroke-opacity="0.85"/>
<rect x="704.50" y="337.5" width="4.2" height="68.0" fill="#089981"/>
<line x1="712.40" y1="270.0" x2="712.40" y2="345.8" stroke="#089981" stroke-width="0.9" stroke-opacity="0.85"/>
<rect x="710.30" y="286.2" width="4.2" height="46.5" fill="#089981"/>
<line x1="718.20" y1="276.7" x2="718.20" y2="367.3" stroke="#f23645" stroke-width="0.9" stroke-opacity="0.85"/>
<rect x="716.10" y="288.0" width="4.2" height="59.0" fill="#f23645"/>
<line x1="724.00" y1="319.6" x2="724.00" y2="357.7" stroke="#089981" stroke-width="0.9" stroke-opacity="0.85"/>
<rect x="721.90" y="344.0" width="4.2" height="3.0" fill="#089981"/>
<line x1="729.80" y1="314.8" x2="729.80" y2="366.1" stroke="#f23645" stroke-width="0.9" stroke-opacity="0.85"/>
<rect x="727.70" y="344.0" width="4.2" height="13.7" fill="#f23645"/>
<line x1="735.60" y1="295.7" x2="735.60" y2="358.9" stroke="#089981" stroke-width="0.9" stroke-opacity="0.85"/>
<rect x="733.50" y="311.6" width="4.2" height="46.1" fill="#089981"/>
<line x1="741.40" y1="291.0" x2="741.40" y2="338.7" stroke="#089981" stroke-width="0.9" stroke-opacity="0.85"/>
<rect x="739.30" y="305.3" width="4.2" height="2.4" fill="#089981"/>
<line x1="747.20" y1="265.0" x2="747.20" y2="319.6" stroke="#f23645" stroke-width="0.9" stroke-opacity="0.85"/>
<rect x="745.10" y="288.0" width="4.2" height="23.6" fill="#f23645"/>
<line x1="753.00" y1="304.1" x2="753.00" y2="343.4" stroke="#f23645" stroke-width="0.9" stroke-opacity="0.85"/>
<rect x="750.90" y="308.0" width="4.2" height="25.9" fill="#f23645"/>
<line x1="758.80" y1="307.7" x2="758.80" y2="337.5" stroke="#089981" stroke-width="0.9" stroke-opacity="0.85"/>
<rect x="756.70" y="318.4" width="4.2" height="17.2" fill="#089981"/>
<line x1="764.60" y1="282.0" x2="764.60" y2="319.6" stroke="#089981" stroke-width="0.9" stroke-opacity="0.85"/>
<rect x="762.50" y="292.4" width="4.2" height="24.8" fill="#089981"/>
<line x1="770.40" y1="283.8" x2="770.40" y2="319.6" stroke="#f23645" stroke-width="0.9" stroke-opacity="0.85"/>
<rect x="768.30" y="291.6" width="4.2" height="22.4" fill="#f23645"/>
<line x1="776.20" y1="306.5" x2="776.20" y2="332.7" stroke="#f23645" stroke-width="0.9" stroke-opacity="0.85"/>
<rect x="774.10" y="313.6" width="4.2" height="8.3" fill="#f23645"/>
<line x1="782.00" y1="316.0" x2="782.00" y2="361.3" stroke="#f23645" stroke-width="0.9" stroke-opacity="0.85"/>
<rect x="779.90" y="320.8" width="4.2" height="19.1" fill="#f23645"/>
<line x1="787.80" y1="329.1" x2="787.80" y2="372.1" stroke="#f23645" stroke-width="0.9" stroke-opacity="0.85"/>
<rect x="785.70" y="341.1" width="4.2" height="23.9" fill="#f23645"/>
<line x1="793.60" y1="329.1" x2="793.60" y2="366.1" stroke="#089981" stroke-width="0.9" stroke-opacity="0.85"/>
<rect x="791.50" y="341.1" width="4.2" height="23.9" fill="#089981"/>
<line x1="799.40" y1="322.0" x2="799.40" y2="356.6" stroke="#f23645" stroke-width="0.9" stroke-opacity="0.85"/>
<rect x="797.30" y="339.9" width="4.2" height="15.5" fill="#f23645"/>
<line x1="805.20" y1="348.2" x2="805.20" y2="372.1" stroke="#089981" stroke-width="0.9" stroke-opacity="0.85"/>
<rect x="803.10" y="348.8" width="4.2" height="6.6" fill="#089981"/>
<line x1="811.00" y1="330.9" x2="811.00" y2="366.1" stroke="#f23645" stroke-width="0.9" stroke-opacity="0.85"/>
<rect x="808.90" y="348.8" width="4.2" height="11.3" fill="#f23645"/>
<line x1="816.80" y1="320.8" x2="816.80" y2="364.9" stroke="#089981" stroke-width="0.9" stroke-opacity="0.85"/>
<rect x="814.70" y="336.3" width="4.2" height="23.9" fill="#089981"/>
<line x1="822.60" y1="298.1" x2="822.60" y2="341.1" stroke="#089981" stroke-width="0.9" stroke-opacity="0.85"/>
<rect x="820.50" y="326.7" width="4.2" height="8.8" fill="#089981"/>
<line x1="828.40" y1="310.0" x2="828.40" y2="353.0" stroke="#f23645" stroke-width="0.9" stroke-opacity="0.85"/>
<rect x="826.30" y="327.9" width="4.2" height="23.9" fill="#f23645"/>
<line x1="834.20" y1="349.4" x2="834.20" y2="384.0" stroke="#f23645" stroke-width="0.9" stroke-opacity="0.85"/>
<rect x="832.10" y="351.8" width="4.2" height="16.7" fill="#f23645"/>
<line x1="840.00" y1="357.7" x2="840.00" y2="386.4" stroke="#f23645" stroke-width="0.9" stroke-opacity="0.85"/>
<rect x="837.90" y="368.5" width="4.2" height="16.1" fill="#f23645"/>
<line x1="845.80" y1="382.8" x2="845.80" y2="412.6" stroke="#f23645" stroke-width="0.9" stroke-opacity="0.85"/>
<rect x="843.70" y="384.6" width="4.2" height="1.8" fill="#f23645"/>
<line x1="851.60" y1="378.0" x2="851.60" y2="415.0" stroke="#f23645" stroke-width="0.9" stroke-opacity="0.85"/>
<rect x="849.50" y="386.4" width="4.2" height="27.4" fill="#f23645"/>
<line x1="857.40" y1="388.8" x2="857.40" y2="419.8" stroke="#089981" stroke-width="0.9" stroke-opacity="0.85"/>
<rect x="855.30" y="400.7" width="4.2" height="13.1" fill="#089981"/>
<line x1="863.20" y1="373.2" x2="863.20" y2="412.6" stroke="#089981" stroke-width="0.9" stroke-opacity="0.85"/>
<rect x="861.10" y="399.2" width="4.2" height="1.8" fill="#089981"/>
<line x1="869.00" y1="360.1" x2="869.00" y2="403.1" stroke="#089981" stroke-width="0.9" stroke-opacity="0.85"/>
<rect x="866.90" y="367.3" width="4.2" height="32.2" fill="#089981"/>
<line x1="874.80" y1="336.3" x2="874.80" y2="366.1" stroke="#089981" stroke-width="0.9" stroke-opacity="0.85"/>
<rect x="872.70" y="339.9" width="4.2" height="20.3" fill="#089981"/>
<line x1="880.60" y1="331.5" x2="880.60" y2="353.0" stroke="#f23645" stroke-width="0.9" stroke-opacity="0.85"/>
<rect x="878.50" y="336.3" width="4.2" height="6.0" fill="#f23645"/>
<line x1="886.40" y1="331.5" x2="886.40" y2="381.0" stroke="#f23645" stroke-width="0.9" stroke-opacity="0.85"/>
<rect x="884.30" y="342.2" width="4.2" height="34.6" fill="#f23645"/>
<line x1="892.20" y1="337.5" x2="892.20" y2="387.6" stroke="#089981" stroke-width="0.9" stroke-opacity="0.85"/>
<rect x="890.10" y="337.8" width="4.2" height="39.0" fill="#089981"/>
<line x1="898.00" y1="312.4" x2="898.00" y2="343.9" stroke="#089981" stroke-width="0.9" stroke-opacity="0.85"/>
<rect x="895.90" y="325.5" width="4.2" height="12.2" fill="#089981"/>
<line x1="903.80" y1="311.2" x2="903.80" y2="355.4" stroke="#f23645" stroke-width="0.9" stroke-opacity="0.85"/>
<rect x="901.70" y="323.2" width="4.2" height="22.1" fill="#f23645"/>
<line x1="909.60" y1="333.9" x2="909.60" y2="361.9" stroke="#f23645" stroke-width="0.9" stroke-opacity="0.85"/>
<rect x="907.50" y="345.2" width="4.2" height="7.8" fill="#f23645"/>
<line x1="915.40" y1="323.2" x2="915.40" y2="356.6" stroke="#089981" stroke-width="0.9" stroke-opacity="0.85"/>
<rect x="913.30" y="329.1" width="4.2" height="23.9" fill="#089981"/>
<line x1="921.20" y1="325.5" x2="921.20" y2="361.3" stroke="#f23645" stroke-width="0.9" stroke-opacity="0.85"/>
<rect x="919.10" y="329.1" width="4.2" height="2.4" fill="#f23645"/>
<line x1="927.00" y1="329.1" x2="927.00" y2="361.3" stroke="#f23645" stroke-width="0.9" stroke-opacity="0.85"/>
<rect x="924.90" y="331.5" width="4.2" height="28.0" fill="#f23645"/>
<line x1="932.80" y1="342.2" x2="932.80" y2="378.6" stroke="#089981" stroke-width="0.9" stroke-opacity="0.85"/>
<rect x="930.70" y="353.6" width="4.2" height="6.0" fill="#089981"/>
<line x1="938.60" y1="318.4" x2="938.60" y2="366.1" stroke="#089981" stroke-width="0.9" stroke-opacity="0.85"/>
<rect x="936.50" y="320.8" width="4.2" height="32.8" fill="#089981"/>
<line x1="944.40" y1="313.6" x2="944.40" y2="355.4" stroke="#f23645" stroke-width="0.9" stroke-opacity="0.85"/>
<rect x="942.30" y="320.8" width="4.2" height="19.1" fill="#f23645"/>
<line x1="950.20" y1="338.7" x2="950.20" y2="364.9" stroke="#f23645" stroke-width="0.9" stroke-opacity="0.85"/>
<rect x="948.10" y="339.9" width="4.2" height="10.7" fill="#f23645"/>
<line x1="956.00" y1="347.0" x2="956.00" y2="366.1" stroke="#f23645" stroke-width="0.9" stroke-opacity="0.85"/>
<rect x="953.90" y="350.6" width="4.2" height="3.6" fill="#f23645"/>
<line x1="961.80" y1="318.4" x2="961.80" y2="361.3" stroke="#089981" stroke-width="0.9" stroke-opacity="0.85"/>
<rect x="959.70" y="330.3" width="4.2" height="23.8" fill="#089981"/>
<line x1="967.60" y1="270.7" x2="967.60" y2="331.5" stroke="#089981" stroke-width="0.9" stroke-opacity="0.85"/>
<rect x="965.50" y="309.4" width="4.2" height="17.9" fill="#089981"/>
<line x1="973.40" y1="236.7" x2="973.40" y2="313.6" stroke="#089981" stroke-width="0.9" stroke-opacity="0.85"/>
<rect x="971.30" y="264.7" width="4.2" height="44.7" fill="#089981"/>
<line x1="979.20" y1="251.6" x2="979.20" y2="285.0" stroke="#f23645" stroke-width="0.9" stroke-opacity="0.85"/>
<rect x="977.10" y="261.7" width="4.2" height="12.5" fill="#f23645"/>
<line x1="985.00" y1="248.6" x2="985.00" y2="300.5" stroke="#f23645" stroke-width="0.9" stroke-opacity="0.85"/>
<rect x="982.90" y="274.3" width="4.2" height="8.3" fill="#f23645"/>
<line x1="990.80" y1="265.9" x2="990.80" y2="311.2" stroke="#089981" stroke-width="0.9" stroke-opacity="0.85"/>
<rect x="988.70" y="278.4" width="4.2" height="1.8" fill="#089981"/>
<line x1="996.60" y1="234.9" x2="996.60" y2="296.9" stroke="#089981" stroke-width="0.9" stroke-opacity="0.85"/>
<rect x="994.50" y="251.6" width="4.2" height="26.2" fill="#089981"/>
<line x1="1002.40" y1="209.0" x2="1002.40" y2="258.8" stroke="#089981" stroke-width="0.9" stroke-opacity="0.85"/>
<rect x="1000.30" y="236.1" width="4.2" height="16.7" fill="#089981"/>
<line x1="1008.20" y1="229.0" x2="1008.20" y2="273.1" stroke="#f23645" stroke-width="0.9" stroke-opacity="0.85"/>
<rect x="1006.10" y="236.1" width="4.2" height="20.3" fill="#f23645"/>
<line x1="1014.00" y1="229.0" x2="1014.00" y2="280.2" stroke="#f23645" stroke-width="0.9" stroke-opacity="0.85"/>
<rect x="1011.90" y="256.4" width="4.2" height="21.5" fill="#f23645"/>
<line x1="1019.80" y1="232.5" x2="1019.80" y2="279.0" stroke="#089981" stroke-width="0.9" stroke-opacity="0.85"/>
<rect x="1017.70" y="242.1" width="4.2" height="35.8" fill="#089981"/>
<line x1="1025.60" y1="218.2" x2="1025.60" y2="255.2" stroke="#f23645" stroke-width="0.9" stroke-opacity="0.85"/>
<rect x="1023.50" y="239.7" width="4.2" height="11.9" fill="#f23645"/>
<line x1="1031.40" y1="202.7" x2="1031.40" y2="252.8" stroke="#089981" stroke-width="0.9" stroke-opacity="0.85"/>
<rect x="1029.30" y="213.5" width="4.2" height="34.6" fill="#089981"/>
<line x1="1037.20" y1="208.7" x2="1037.20" y2="298.1" stroke="#f23645" stroke-width="0.9" stroke-opacity="0.85"/>
<rect x="1035.10" y="211.7" width="4.2" height="23.3" fill="#f23645"/>
<line x1="1043.00" y1="221.8" x2="1043.00" y2="246.8" stroke="#089981" stroke-width="0.9" stroke-opacity="0.85"/>
<rect x="1040.90" y="232.5" width="4.2" height="2.4" fill="#089981"/>
<line x1="1048.80" y1="180.1" x2="1048.80" y2="234.9" stroke="#089981" stroke-width="0.9" stroke-opacity="0.85"/>
<rect x="1046.70" y="195.6" width="4.2" height="36.4" fill="#089981"/>
<line x1="1054.60" y1="151.3" x2="1054.60" y2="197.3" stroke="#089981" stroke-width="0.9" stroke-opacity="0.85"/>
<rect x="1052.50" y="156.2" width="4.2" height="37.0" fill="#089981"/>
</g>
<g fill="none" stroke="#8a9be6" stroke-width="1.1"><path d="M747.4,265 L1041.7,345.5 L683.6,488.5"/></g>
<g stroke="#8d8d8d" stroke-width="1"><line x1="955.3" y1="274" x2="1066" y2="124"/><line x1="955.3" y1="364.3" x2="1066.7" y2="212.5"/></g>
<g fill="none" stroke="#20b2c8" stroke-width="1.25" stroke-linecap="round" stroke-linejoin="round"><path d="M1066.3,203 L1089.2,48.5"/><path d="M1081.8,54.5 L1089.3,48.3 L1095,56"/></g>
<g fill="#fff" stroke="#7a5ccf" stroke-width="1.25" stroke-opacity="0.9">
<clipPath id="cl"><rect x="3" y="0" width="1160" height="534"/></clipPath>
<g clip-path="url(#cl)">
<circle cx="5.0" cy="511.1" r="6.1"/>
<path d="M2.0,508.9 L5.3,511.1 L2.0,513.3 M5.3,511.1 H7.5" fill="none" stroke-width="1.1" stroke-linecap="round"/>
<path d="M6.7,509.2 L9.4,511.1 L6.7,513 Z" fill="#7a5ccf" stroke="none"/>
<circle cx="16.6" cy="511.1" r="6.1"/>
<path d="M13.6,508.9 L16.9,511.1 L13.6,513.3 M16.9,511.1 H19.1" fill="none" stroke-width="1.1" stroke-linecap="round"/>
<path d="M18.3,509.2 L21.0,511.1 L18.3,513 Z" fill="#7a5ccf" stroke="none"/>
<circle cx="34.0" cy="511.1" r="6.1"/>
<path d="M31.0,508.9 L34.3,511.1 L31.0,513.3 M34.3,511.1 H36.5" fill="none" stroke-width="1.1" stroke-linecap="round"/>
<path d="M35.7,509.2 L38.4,511.1 L35.7,513 Z" fill="#7a5ccf" stroke="none"/>
<circle cx="51.4" cy="511.1" r="6.1"/>
<path d="M48.4,508.9 L51.7,511.1 L48.4,513.3 M51.7,511.1 H53.9" fill="none" stroke-width="1.1" stroke-linecap="round"/>
<path d="M53.1,509.2 L55.8,511.1 L53.1,513 Z" fill="#7a5ccf" stroke="none"/>
<circle cx="63.0" cy="511.1" r="6.1"/>
<path d="M60.0,508.9 L63.3,511.1 L60.0,513.3 M63.3,511.1 H65.5" fill="none" stroke-width="1.1" stroke-linecap="round"/>
<path d="M64.7,509.2 L67.4,511.1 L64.7,513 Z" fill="#7a5ccf" stroke="none"/>
<circle cx="74.6" cy="511.1" r="6.1"/>
<path d="M71.6,508.9 L74.9,511.1 L71.6,513.3 M74.9,511.1 H77.1" fill="none" stroke-width="1.1" stroke-linecap="round"/>
<path d="M76.3,509.2 L79.0,511.1 L76.3,513 Z" fill="#7a5ccf" stroke="none"/>
<circle cx="86.2" cy="511.1" r="6.1"/>
<path d="M83.2,508.9 L86.5,511.1 L83.2,513.3 M86.5,511.1 H88.7" fill="none" stroke-width="1.1" stroke-linecap="round"/>
<path d="M87.9,509.2 L90.6,511.1 L87.9,513 Z" fill="#7a5ccf" stroke="none"/>
<circle cx="103.6" cy="511.1" r="6.1"/>
<path d="M100.6,508.9 L103.9,511.1 L100.6,513.3 M103.9,511.1 H106.1" fill="none" stroke-width="1.1" stroke-linecap="round"/>
<path d="M105.3,509.2 L108.0,511.1 L105.3,513 Z" fill="#7a5ccf" stroke="none"/>
<circle cx="121.0" cy="511.1" r="6.1"/>
<path d="M118.0,508.9 L121.3,511.1 L118.0,513.3 M121.3,511.1 H123.5" fill="none" stroke-width="1.1" stroke-linecap="round"/>
<path d="M122.7,509.2 L125.4,511.1 L122.7,513 Z" fill="#7a5ccf" stroke="none"/>
<circle cx="132.6" cy="511.1" r="6.1"/>
<path d="M129.6,508.9 L132.9,511.1 L129.6,513.3 M132.9,511.1 H135.1" fill="none" stroke-width="1.1" stroke-linecap="round"/>
<path d="M134.3,509.2 L137.0,511.1 L134.3,513 Z" fill="#7a5ccf" stroke="none"/>
<circle cx="144.2" cy="511.1" r="6.1"/>
<path d="M141.2,508.9 L144.5,511.1 L141.2,513.3 M144.5,511.1 H146.7" fill="none" stroke-width="1.1" stroke-linecap="round"/>
<path d="M145.9,509.2 L148.6,511.1 L145.9,513 Z" fill="#7a5ccf" stroke="none"/>
<circle cx="155.8" cy="511.1" r="6.1"/>
<path d="M152.8,508.9 L156.1,511.1 L152.8,513.3 M156.1,511.1 H158.3" fill="none" stroke-width="1.1" stroke-linecap="round"/>
<path d="M157.5,509.2 L160.2,511.1 L157.5,513 Z" fill="#7a5ccf" stroke="none"/>
<circle cx="173.2" cy="511.1" r="6.1"/>
<path d="M170.2,508.9 L173.5,511.1 L170.2,513.3 M173.5,511.1 H175.7" fill="none" stroke-width="1.1" stroke-linecap="round"/>
<path d="M174.9,509.2 L177.6,511.1 L174.9,513 Z" fill="#7a5ccf" stroke="none"/>
<circle cx="190.6" cy="511.1" r="6.1"/>
<path d="M187.6,508.9 L190.9,511.1 L187.6,513.3 M190.9,511.1 H193.1" fill="none" stroke-width="1.1" stroke-linecap="round"/>
<path d="M192.3,509.2 L195.0,511.1 L192.3,513 Z" fill="#7a5ccf" stroke="none"/>
<circle cx="202.2" cy="511.1" r="6.1"/>
<path d="M199.2,508.9 L202.5,511.1 L199.2,513.3 M202.5,511.1 H204.7" fill="none" stroke-width="1.1" stroke-linecap="round"/>
<path d="M203.9,509.2 L206.6,511.1 L203.9,513 Z" fill="#7a5ccf" stroke="none"/>
<circle cx="213.8" cy="511.1" r="6.1"/>
<path d="M210.8,508.9 L214.1,511.1 L210.8,513.3 M214.1,511.1 H216.3" fill="none" stroke-width="1.1" stroke-linecap="round"/>
<path d="M215.5,509.2 L218.2,511.1 L215.5,513 Z" fill="#7a5ccf" stroke="none"/>
<circle cx="225.4" cy="511.1" r="6.1"/>
<path d="M222.4,508.9 L225.7,511.1 L222.4,513.3 M225.7,511.1 H227.9" fill="none" stroke-width="1.1" stroke-linecap="round"/>
<path d="M227.1,509.2 L229.8,511.1 L227.1,513 Z" fill="#7a5ccf" stroke="none"/>
<circle cx="242.8" cy="511.1" r="6.1"/>
<path d="M239.8,508.9 L243.1,511.1 L239.8,513.3 M243.1,511.1 H245.3" fill="none" stroke-width="1.1" stroke-linecap="round"/>
<path d="M244.5,509.2 L247.2,511.1 L244.5,513 Z" fill="#7a5ccf" stroke="none"/>
<circle cx="260.2" cy="511.1" r="6.1"/>
<path d="M257.2,508.9 L260.5,511.1 L257.2,513.3 M260.5,511.1 H262.7" fill="none" stroke-width="1.1" stroke-linecap="round"/>
<path d="M261.9,509.2 L264.6,511.1 L261.9,513 Z" fill="#7a5ccf" stroke="none"/>
<circle cx="271.8" cy="511.1" r="6.1"/>
<path d="M268.8,508.9 L272.1,511.1 L268.8,513.3 M272.1,511.1 H274.3" fill="none" stroke-width="1.1" stroke-linecap="round"/>
<path d="M273.5,509.2 L276.2,511.1 L273.5,513 Z" fill="#7a5ccf" stroke="none"/>
<circle cx="283.4" cy="511.1" r="6.1"/>
<path d="M280.4,508.9 L283.7,511.1 L280.4,513.3 M283.7,511.1 H285.9" fill="none" stroke-width="1.1" stroke-linecap="round"/>
<path d="M285.1,509.2 L287.8,511.1 L285.1,513 Z" fill="#7a5ccf" stroke="none"/>
<circle cx="295.0" cy="511.1" r="6.1"/>
<path d="M292.0,508.9 L295.3,511.1 L292.0,513.3 M295.3,511.1 H297.5" fill="none" stroke-width="1.1" stroke-linecap="round"/>
<path d="M296.7,509.2 L299.4,511.1 L296.7,513 Z" fill="#7a5ccf" stroke="none"/>
<circle cx="312.4" cy="511.1" r="6.1"/>
<path d="M309.4,508.9 L312.7,511.1 L309.4,513.3 M312.7,511.1 H314.9" fill="none" stroke-width="1.1" stroke-linecap="round"/>
<path d="M314.1,509.2 L316.8,511.1 L314.1,513 Z" fill="#7a5ccf" stroke="none"/>
<circle cx="329.8" cy="511.1" r="6.1"/>
<path d="M326.8,508.9 L330.1,511.1 L326.8,513.3 M330.1,511.1 H332.3" fill="none" stroke-width="1.1" stroke-linecap="round"/>
<path d="M331.5,509.2 L334.2,511.1 L331.5,513 Z" fill="#7a5ccf" stroke="none"/>
<circle cx="341.4" cy="511.1" r="6.1"/>
<path d="M338.4,508.9 L341.7,511.1 L338.4,513.3 M341.7,511.1 H343.9" fill="none" stroke-width="1.1" stroke-linecap="round"/>
<path d="M343.1,509.2 L345.8,511.1 L343.1,513 Z" fill="#7a5ccf" stroke="none"/>
<circle cx="353.0" cy="511.1" r="6.1"/>
<path d="M350.0,508.9 L353.3,511.1 L350.0,513.3 M353.3,511.1 H355.5" fill="none" stroke-width="1.1" stroke-linecap="round"/>
<path d="M354.7,509.2 L357.4,511.1 L354.7,513 Z" fill="#7a5ccf" stroke="none"/>
<circle cx="364.6" cy="511.1" r="6.1"/>
<path d="M361.6,508.9 L364.9,511.1 L361.6,513.3 M364.9,511.1 H367.1" fill="none" stroke-width="1.1" stroke-linecap="round"/>
<path d="M366.3,509.2 L369.0,511.1 L366.3,513 Z" fill="#7a5ccf" stroke="none"/>
<circle cx="382.0" cy="511.1" r="6.1"/>
<path d="M379.0,508.9 L382.3,511.1 L379.0,513.3 M382.3,511.1 H384.5" fill="none" stroke-width="1.1" stroke-linecap="round"/>
<path d="M383.7,509.2 L386.4,511.1 L383.7,513 Z" fill="#7a5ccf" stroke="none"/>
<circle cx="399.4" cy="511.1" r="6.1"/>
<path d="M396.4,508.9 L399.7,511.1 L396.4,513.3 M399.7,511.1 H401.9" fill="none" stroke-width="1.1" stroke-linecap="round"/>
<path d="M401.1,509.2 L403.8,511.1 L401.1,513 Z" fill="#7a5ccf" stroke="none"/>
<circle cx="411.0" cy="511.1" r="6.1"/>
<path d="M408.0,508.9 L411.3,511.1 L408.0,513.3 M411.3,511.1 H413.5" fill="none" stroke-width="1.1" stroke-linecap="round"/>
<path d="M412.7,509.2 L415.4,511.1 L412.7,513 Z" fill="#7a5ccf" stroke="none"/>
<circle cx="422.6" cy="511.1" r="6.1"/>
<path d="M419.6,508.9 L422.9,511.1 L419.6,513.3 M422.9,511.1 H425.1" fill="none" stroke-width="1.1" stroke-linecap="round"/>
<path d="M424.3,509.2 L427.0,511.1 L424.3,513 Z" fill="#7a5ccf" stroke="none"/>
<circle cx="434.2" cy="511.1" r="6.1"/>
<path d="M431.2,508.9 L434.5,511.1 L431.2,513.3 M434.5,511.1 H436.7" fill="none" stroke-width="1.1" stroke-linecap="round"/>
<path d="M435.9,509.2 L438.6,511.1 L435.9,513 Z" fill="#7a5ccf" stroke="none"/>
<circle cx="451.6" cy="511.1" r="6.1"/>
<path d="M448.6,508.9 L451.9,511.1 L448.6,513.3 M451.9,511.1 H454.1" fill="none" stroke-width="1.1" stroke-linecap="round"/>
<path d="M453.3,509.2 L456.0,511.1 L453.3,513 Z" fill="#7a5ccf" stroke="none"/>
<circle cx="469.0" cy="511.1" r="6.1"/>
<path d="M466.0,508.9 L469.3,511.1 L466.0,513.3 M469.3,511.1 H471.5" fill="none" stroke-width="1.1" stroke-linecap="round"/>
<path d="M470.7,509.2 L473.4,511.1 L470.7,513 Z" fill="#7a5ccf" stroke="none"/>
<circle cx="480.6" cy="511.1" r="6.1"/>
<path d="M477.6,508.9 L480.9,511.1 L477.6,513.3 M480.9,511.1 H483.1" fill="none" stroke-width="1.1" stroke-linecap="round"/>
<path d="M482.3,509.2 L485.0,511.1 L482.3,513 Z" fill="#7a5ccf" stroke="none"/>
<circle cx="492.2" cy="511.1" r="6.1"/>
<path d="M489.2,508.9 L492.5,511.1 L489.2,513.3 M492.5,511.1 H494.7" fill="none" stroke-width="1.1" stroke-linecap="round"/>
<path d="M493.9,509.2 L496.6,511.1 L493.9,513 Z" fill="#7a5ccf" stroke="none"/>
<circle cx="503.8" cy="511.1" r="6.1"/>
<path d="M500.8,508.9 L504.1,511.1 L500.8,513.3 M504.1,511.1 H506.3" fill="none" stroke-width="1.1" stroke-linecap="round"/>
<path d="M505.5,509.2 L508.2,511.1 L505.5,513 Z" fill="#7a5ccf" stroke="none"/>
<circle cx="521.2" cy="511.1" r="6.1"/>
<path d="M518.2,508.9 L521.5,511.1 L518.2,513.3 M521.5,511.1 H523.7" fill="none" stroke-width="1.1" stroke-linecap="round"/>
<path d="M522.9,509.2 L525.6,511.1 L522.9,513 Z" fill="#7a5ccf" stroke="none"/>
<circle cx="538.6" cy="511.1" r="6.1"/>
<path d="M535.6,508.9 L538.9,511.1 L535.6,513.3 M538.9,511.1 H541.1" fill="none" stroke-width="1.1" stroke-linecap="round"/>
<path d="M540.3,509.2 L543.0,511.1 L540.3,513 Z" fill="#7a5ccf" stroke="none"/>
<circle cx="550.2" cy="511.1" r="6.1"/>
<path d="M547.2,508.9 L550.5,511.1 L547.2,513.3 M550.5,511.1 H552.7" fill="none" stroke-width="1.1" stroke-linecap="round"/>
<path d="M551.9,509.2 L554.6,511.1 L551.9,513 Z" fill="#7a5ccf" stroke="none"/>
<circle cx="561.8" cy="511.1" r="6.1"/>
<path d="M558.8,508.9 L562.1,511.1 L558.8,513.3 M562.1,511.1 H564.3" fill="none" stroke-width="1.1" stroke-linecap="round"/>
<path d="M563.5,509.2 L566.2,511.1 L563.5,513 Z" fill="#7a5ccf" stroke="none"/>
<circle cx="573.4" cy="511.1" r="6.1"/>
<path d="M570.4,508.9 L573.7,511.1 L570.4,513.3 M573.7,511.1 H575.9" fill="none" stroke-width="1.1" stroke-linecap="round"/>
<path d="M575.1,509.2 L577.8,511.1 L575.1,513 Z" fill="#7a5ccf" stroke="none"/>
<circle cx="590.8" cy="511.1" r="6.1"/>
<path d="M587.8,508.9 L591.1,511.1 L587.8,513.3 M591.1,511.1 H593.3" fill="none" stroke-width="1.1" stroke-linecap="round"/>
<path d="M592.5,509.2 L595.2,511.1 L592.5,513 Z" fill="#7a5ccf" stroke="none"/>
<circle cx="608.2" cy="511.1" r="6.1"/>
<path d="M605.2,508.9 L608.5,511.1 L605.2,513.3 M608.5,511.1 H610.7" fill="none" stroke-width="1.1" stroke-linecap="round"/>
<path d="M609.9,509.2 L612.6,511.1 L609.9,513 Z" fill="#7a5ccf" stroke="none"/>
<circle cx="619.8" cy="511.1" r="6.1"/>
<path d="M616.8,508.9 L620.1,511.1 L616.8,513.3 M620.1,511.1 H622.3" fill="none" stroke-width="1.1" stroke-linecap="round"/>
<path d="M621.5,509.2 L624.2,511.1 L621.5,513 Z" fill="#7a5ccf" stroke="none"/>
<circle cx="631.4" cy="511.1" r="6.1"/>
<path d="M628.4,508.9 L631.7,511.1 L628.4,513.3 M631.7,511.1 H633.9" fill="none" stroke-width="1.1" stroke-linecap="round"/>
<path d="M633.1,509.2 L635.8,511.1 L633.1,513 Z" fill="#7a5ccf" stroke="none"/>
<circle cx="643.0" cy="511.1" r="6.1"/>
<path d="M640.0,508.9 L643.3,511.1 L640.0,513.3 M643.3,511.1 H645.5" fill="none" stroke-width="1.1" stroke-linecap="round"/>
<path d="M644.7,509.2 L647.4,511.1 L644.7,513 Z" fill="#7a5ccf" stroke="none"/>
<circle cx="660.4" cy="511.1" r="6.1"/>
<path d="M657.4,508.9 L660.7,511.1 L657.4,513.3 M660.7,511.1 H662.9" fill="none" stroke-width="1.1" stroke-linecap="round"/>
<path d="M662.1,509.2 L664.8,511.1 L662.1,513 Z" fill="#7a5ccf" stroke="none"/>
<circle cx="677.8" cy="511.1" r="6.1"/>
<path d="M674.8,508.9 L678.1,511.1 L674.8,513.3 M678.1,511.1 H680.3" fill="none" stroke-width="1.1" stroke-linecap="round"/>
<path d="M679.5,509.2 L682.2,511.1 L679.5,513 Z" fill="#7a5ccf" stroke="none"/>
<circle cx="689.4" cy="511.1" r="6.1"/>
<path d="M686.4,508.9 L689.7,511.1 L686.4,513.3 M689.7,511.1 H691.9" fill="none" stroke-width="1.1" stroke-linecap="round"/>
<path d="M691.1,509.2 L693.8,511.1 L691.1,513 Z" fill="#7a5ccf" stroke="none"/>
<circle cx="701.0" cy="511.1" r="6.1"/>
<path d="M698.0,508.9 L701.3,511.1 L698.0,513.3 M701.3,511.1 H703.5" fill="none" stroke-width="1.1" stroke-linecap="round"/>
<path d="M702.7,509.2 L705.4,511.1 L702.7,513 Z" fill="#7a5ccf" stroke="none"/>
<circle cx="712.6" cy="511.1" r="6.1"/>
<path d="M709.6,508.9 L712.9,511.1 L709.6,513.3 M712.9,511.1 H715.1" fill="none" stroke-width="1.1" stroke-linecap="round"/>
<path d="M714.3,509.2 L717.0,511.1 L714.3,513 Z" fill="#7a5ccf" stroke="none"/>
<circle cx="730.0" cy="511.1" r="6.1"/>
<path d="M727.0,508.9 L730.3,511.1 L727.0,513.3 M730.3,511.1 H732.5" fill="none" stroke-width="1.1" stroke-linecap="round"/>
<path d="M731.7,509.2 L734.4,511.1 L731.7,513 Z" fill="#7a5ccf" stroke="none"/>
<circle cx="747.4" cy="511.1" r="6.1"/>
<path d="M744.4,508.9 L747.7,511.1 L744.4,513.3 M747.7,511.1 H749.9" fill="none" stroke-width="1.1" stroke-linecap="round"/>
<path d="M749.1,509.2 L751.8,511.1 L749.1,513 Z" fill="#7a5ccf" stroke="none"/>
<circle cx="759.0" cy="511.1" r="6.1"/>
<path d="M756.0,508.9 L759.3,511.1 L756.0,513.3 M759.3,511.1 H761.5" fill="none" stroke-width="1.1" stroke-linecap="round"/>
<path d="M760.7,509.2 L763.4,511.1 L760.7,513 Z" fill="#7a5ccf" stroke="none"/>
<circle cx="770.6" cy="511.1" r="6.1"/>
<path d="M767.6,508.9 L770.9,511.1 L767.6,513.3 M770.9,511.1 H773.1" fill="none" stroke-width="1.1" stroke-linecap="round"/>
<path d="M772.3,509.2 L775.0,511.1 L772.3,513 Z" fill="#7a5ccf" stroke="none"/>
<circle cx="782.2" cy="511.1" r="6.1"/>
<path d="M779.2,508.9 L782.5,511.1 L779.2,513.3 M782.5,511.1 H784.7" fill="none" stroke-width="1.1" stroke-linecap="round"/>
<path d="M783.9,509.2 L786.6,511.1 L783.9,513 Z" fill="#7a5ccf" stroke="none"/>
<circle cx="799.6" cy="511.1" r="6.1"/>
<path d="M796.6,508.9 L799.9,511.1 L796.6,513.3 M799.9,511.1 H802.1" fill="none" stroke-width="1.1" stroke-linecap="round"/>
<path d="M801.3,509.2 L804.0,511.1 L801.3,513 Z" fill="#7a5ccf" stroke="none"/>
<circle cx="817.0" cy="511.1" r="6.1"/>
<path d="M814.0,508.9 L817.3,511.1 L814.0,513.3 M817.3,511.1 H819.5" fill="none" stroke-width="1.1" stroke-linecap="round"/>
<path d="M818.7,509.2 L821.4,511.1 L818.7,513 Z" fill="#7a5ccf" stroke="none"/>
<circle cx="828.6" cy="511.1" r="6.1"/>
<path d="M825.6,508.9 L828.9,511.1 L825.6,513.3 M828.9,511.1 H831.1" fill="none" stroke-width="1.1" stroke-linecap="round"/>
<path d="M830.3,509.2 L833.0,511.1 L830.3,513 Z" fill="#7a5ccf" stroke="none"/>
<circle cx="840.2" cy="511.1" r="6.1"/>
<path d="M837.2,508.9 L840.5,511.1 L837.2,513.3 M840.5,511.1 H842.7" fill="none" stroke-width="1.1" stroke-linecap="round"/>
<path d="M841.9,509.2 L844.6,511.1 L841.9,513 Z" fill="#7a5ccf" stroke="none"/>
<circle cx="851.8" cy="511.1" r="6.1"/>
<path d="M848.8,508.9 L852.1,511.1 L848.8,513.3 M852.1,511.1 H854.3" fill="none" stroke-width="1.1" stroke-linecap="round"/>
<path d="M853.5,509.2 L856.2,511.1 L853.5,513 Z" fill="#7a5ccf" stroke="none"/>
<circle cx="869.2" cy="511.1" r="6.1"/>
<path d="M866.2,508.9 L869.5,511.1 L866.2,513.3 M869.5,511.1 H871.7" fill="none" stroke-width="1.1" stroke-linecap="round"/>
<path d="M870.9,509.2 L873.6,511.1 L870.9,513 Z" fill="#7a5ccf" stroke="none"/>
<circle cx="886.6" cy="511.1" r="6.1"/>
<path d="M883.6,508.9 L886.9,511.1 L883.6,513.3 M886.9,511.1 H889.1" fill="none" stroke-width="1.1" stroke-linecap="round"/>
<path d="M888.3,509.2 L891.0,511.1 L888.3,513 Z" fill="#7a5ccf" stroke="none"/>
<circle cx="898.2" cy="511.1" r="6.1"/>
<path d="M895.2,508.9 L898.5,511.1 L895.2,513.3 M898.5,511.1 H900.7" fill="none" stroke-width="1.1" stroke-linecap="round"/>
<path d="M899.9,509.2 L902.6,511.1 L899.9,513 Z" fill="#7a5ccf" stroke="none"/>
<circle cx="909.8" cy="511.1" r="6.1"/>
<path d="M906.8,508.9 L910.1,511.1 L906.8,513.3 M910.1,511.1 H912.3" fill="none" stroke-width="1.1" stroke-linecap="round"/>
<path d="M911.5,509.2 L914.2,511.1 L911.5,513 Z" fill="#7a5ccf" stroke="none"/>
<circle cx="921.4" cy="511.1" r="6.1"/>
<path d="M918.4,508.9 L921.7,511.1 L918.4,513.3 M921.7,511.1 H923.9" fill="none" stroke-width="1.1" stroke-linecap="round"/>
<path d="M923.1,509.2 L925.8,511.1 L923.1,513 Z" fill="#7a5ccf" stroke="none"/>
<circle cx="938.8" cy="511.1" r="6.1"/>
<path d="M935.8,508.9 L939.1,511.1 L935.8,513.3 M939.1,511.1 H941.3" fill="none" stroke-width="1.1" stroke-linecap="round"/>
<path d="M940.5,509.2 L943.2,511.1 L940.5,513 Z" fill="#7a5ccf" stroke="none"/>
<circle cx="956.2" cy="511.1" r="6.1"/>
<path d="M953.2,508.9 L956.5,511.1 L953.2,513.3 M956.5,511.1 H958.7" fill="none" stroke-width="1.1" stroke-linecap="round"/>
<path d="M957.9,509.2 L960.6,511.1 L957.9,513 Z" fill="#7a5ccf" stroke="none"/>
<circle cx="967.8" cy="511.1" r="6.1"/>
<path d="M964.8,508.9 L968.1,511.1 L964.8,513.3 M968.1,511.1 H970.3" fill="none" stroke-width="1.1" stroke-linecap="round"/>
<path d="M969.5,509.2 L972.2,511.1 L969.5,513 Z" fill="#7a5ccf" stroke="none"/>
<circle cx="979.4" cy="511.1" r="6.1"/>
<path d="M976.4,508.9 L979.7,511.1 L976.4,513.3 M979.7,511.1 H981.9" fill="none" stroke-width="1.1" stroke-linecap="round"/>
<path d="M981.1,509.2 L983.8,511.1 L981.1,513 Z" fill="#7a5ccf" stroke="none"/>
<circle cx="991.0" cy="511.1" r="6.1"/>
<path d="M988.0,508.9 L991.3,511.1 L988.0,513.3 M991.3,511.1 H993.5" fill="none" stroke-width="1.1" stroke-linecap="round"/>
<path d="M992.7,509.2 L995.4,511.1 L992.7,513 Z" fill="#7a5ccf" stroke="none"/>
<circle cx="1008.4" cy="511.1" r="6.1"/>
<path d="M1005.4,508.9 L1008.7,511.1 L1005.4,513.3 M1008.7,511.1 H1010.9" fill="none" stroke-width="1.1" stroke-linecap="round"/>
<path d="M1010.1,509.2 L1012.8,511.1 L1010.1,513 Z" fill="#7a5ccf" stroke="none"/>
<circle cx="1025.8" cy="511.1" r="6.1"/>
<path d="M1022.8,508.9 L1026.1,511.1 L1022.8,513.3 M1026.1,511.1 H1028.3" fill="none" stroke-width="1.1" stroke-linecap="round"/>
<path d="M1027.5,509.2 L1030.2,511.1 L1027.5,513 Z" fill="#7a5ccf" stroke="none"/>
<circle cx="1037.4" cy="511.1" r="6.1"/>
<path d="M1034.4,508.9 L1037.7,511.1 L1034.4,513.3 M1037.7,511.1 H1039.9" fill="none" stroke-width="1.1" stroke-linecap="round"/>
<path d="M1039.1,509.2 L1041.8,511.1 L1039.1,513 Z" fill="#7a5ccf" stroke="none"/>
<circle cx="1049.0" cy="511.1" r="6.1"/>
<path d="M1046.0,508.9 L1049.3,511.1 L1046.0,513.3 M1049.3,511.1 H1051.5" fill="none" stroke-width="1.1" stroke-linecap="round"/>
<path d="M1050.7,509.2 L1053.4,511.1 L1050.7,513 Z" fill="#7a5ccf" stroke="none"/>
<circle cx="1060.6" cy="511.1" r="6.1"/>
<path d="M1057.6,508.9 L1060.9,511.1 L1057.6,513.3 M1060.9,511.1 H1063.1" fill="none" stroke-width="1.1" stroke-linecap="round"/>
<path d="M1062.3,509.2 L1065.0,511.1 L1062.3,513 Z" fill="#7a5ccf" stroke="none"/>
<circle cx="1078.0" cy="511.1" r="6.1"/>
<path d="M1075.0,508.9 L1078.3,511.1 L1075.0,513.3 M1078.3,511.1 H1080.5" fill="none" stroke-width="1.1" stroke-linecap="round"/>
<path d="M1079.7,509.2 L1082.4,511.1 L1079.7,513 Z" fill="#7a5ccf" stroke="none"/>
<circle cx="1095.4" cy="511.1" r="6.1"/>
<path d="M1092.4,508.9 L1095.7,511.1 L1092.4,513.3 M1095.7,511.1 H1097.9" fill="none" stroke-width="1.1" stroke-linecap="round"/>
<path d="M1097.1,509.2 L1099.8,511.1 L1097.1,513 Z" fill="#7a5ccf" stroke="none"/>
<circle cx="1107.0" cy="511.1" r="6.1"/>
<path d="M1104.0,508.9 L1107.3,511.1 L1104.0,513.3 M1107.3,511.1 H1109.5" fill="none" stroke-width="1.1" stroke-linecap="round"/>
<path d="M1108.7,509.2 L1111.4,511.1 L1108.7,513 Z" fill="#7a5ccf" stroke="none"/>
<circle cx="1118.6" cy="511.1" r="6.1"/>
<path d="M1115.6,508.9 L1118.9,511.1 L1115.6,513.3 M1118.9,511.1 H1121.1" fill="none" stroke-width="1.1" stroke-linecap="round"/>
<path d="M1120.3,509.2 L1123.0,511.1 L1120.3,513 Z" fill="#7a5ccf" stroke="none"/>
<circle cx="1130.2" cy="511.1" r="6.1"/>
<path d="M1127.2,508.9 L1130.5,511.1 L1127.2,513.3 M1130.5,511.1 H1132.7" fill="none" stroke-width="1.1" stroke-linecap="round"/>
<path d="M1131.9,509.2 L1134.6,511.1 L1131.9,513 Z" fill="#7a5ccf" stroke="none"/>
<circle cx="1147.6" cy="511.1" r="6.1"/>
<path d="M1144.6,508.9 L1147.9,511.1 L1144.6,513.3 M1147.9,511.1 H1150.1" fill="none" stroke-width="1.1" stroke-linecap="round"/>
<path d="M1149.3,509.2 L1152.0,511.1 L1149.3,513 Z" fill="#7a5ccf" stroke="none"/>
</g></g>
<g font-family="'Liberation Sans', sans-serif" font-size="7.9" fill="#3a3d46" text-anchor="start" letter-spacing="-0.2">
<text x="1169.5" y="509.9">10.000</text>
<text x="1169.5" y="486.1">12.000</text>
<text x="1169.5" y="462.2">14.000</text>
<text x="1169.5" y="438.4">16.000</text>
<text x="1169.5" y="414.5">18.000</text>
<text x="1169.5" y="390.6">20.000</text>
<text x="1169.5" y="366.8">22.000</text>
<text x="1169.5" y="342.9">24.000</text>
<text x="1169.5" y="319.1">26.000</text>
<text x="1169.5" y="295.2">28.000</text>
<text x="1169.5" y="271.4">30.000</text>
<text x="1169.5" y="247.6">32.000</text>
<text x="1169.5" y="223.7">34.000</text>
<text x="1169.5" y="176.0">38.000</text>
<text x="1169.5" y="152.2">40.000</text>
<text x="1169.5" y="104.5">44.000</text>
<text x="1169.5" y="80.6">46.000</text>
<text x="1169.5" y="56.8">48.000</text>
</g>
<rect x="1164" y="25" width="32" height="11" fill="#9c27b0"/>
<text x="1180.0" y="33.4" text-anchor="middle" font-family="'Liberation Sans', sans-serif" font-size="7.9" letter-spacing="-0.2" fill="#fff">50.000</text>
<rect x="1164" y="120.7" width="32" height="10.6" fill="#9c27b0"/>
<text x="1180.0" y="128.9" text-anchor="middle" font-family="'Liberation Sans', sans-serif" font-size="7.9" letter-spacing="-0.2" fill="#fff">42.000</text>
<rect x="1164" y="192.3" width="32" height="10.4" fill="#089981"/>
<text x="1180.0" y="200.4" text-anchor="middle" font-family="'Liberation Sans', sans-serif" font-size="7.9" letter-spacing="-0.2" fill="#fff">36.000</text>
<rect x="1164" y="313" width="32" height="10.4" fill="#f57c00"/>
<text x="1180.0" y="321.1" text-anchor="middle" font-family="'Liberation Sans', sans-serif" font-size="7.9" letter-spacing="-0.2" fill="#fff">25.859</text>
<rect x="1164" y="359" width="32" height="10.6" fill="#43a047"/>
<text x="1180.0" y="367.2" text-anchor="middle" font-family="'Liberation Sans', sans-serif" font-size="7.9" letter-spacing="-0.2" fill="#fff">22.018</text>
<rect x="1130" y="151.5" width="32.5" height="10.2" fill="#089981"/>
<text x="1146.25" y="159.5" text-anchor="middle" font-family="'Liberation Sans', sans-serif" font-size="7.9" letter-spacing="-0.2" fill="#fff">SIU2025</text>
<rect x="1164" y="151.5" width="32" height="19.3" fill="#089981"/>
<text x="1180.0" y="159.5" text-anchor="middle" font-family="'Liberation Sans', sans-serif" font-size="7.9" letter-spacing="-0.2" fill="#fff">39.440</text>
<text x="1180.0" y="168.2" text-anchor="middle" font-family="'Liberation Sans', sans-serif" font-size="7.9" letter-spacing="-0.2" fill="#fff">7d 20h</text>
<g font-family="'Liberation Sans', sans-serif" font-size="8" fill="#3a3d46" text-anchor="middle">
<clipPath id="cl2"><rect x="0" y="518" width="1163" height="20"/></clipPath><g clip-path="url(#cl2)">
<text x="10.6" y="531">Jul</text>
<text x="45.4" y="531" font-weight="bold">2011</text>
<text x="80.2" y="531">Jul</text>
<text x="115.0" y="531" font-weight="bold">2012</text>
<text x="149.8" y="531">Jul</text>
<text x="184.6" y="531" font-weight="bold">2013</text>
<text x="219.4" y="531">Jul</text>
<text x="254.2" y="531" font-weight="bold">2014</text>
<text x="289.0" y="531">Jul</text>
<text x="323.8" y="531" font-weight="bold">2015</text>
<text x="358.6" y="531">Jul</text>
<text x="393.4" y="531" font-weight="bold">2016</text>
<text x="428.2" y="531">Jul</text>
<text x="463.0" y="531" font-weight="bold">2017</text>
<text x="497.8" y="531">Jul</text>
<text x="532.6" y="531" font-weight="bold">2018</text>
<text x="567.4" y="531">Jul</text>
<text x="602.2" y="531" font-weight="bold">2019</text>
<text x="637.0" y="531">Jul</text>
<text x="671.8" y="531" font-weight="bold">2020</text>
<text x="706.6" y="531">Jul</text>
<text x="741.4" y="531" font-weight="bold">2021</text>
<text x="776.2" y="531">Jul</text>
<text x="811.0" y="531" font-weight="bold">2022</text>
<text x="845.8" y="531">Jul</text>
<text x="880.6" y="531" font-weight="bold">2023</text>
<text x="915.4" y="531">Jul</text>
<text x="950.2" y="531" font-weight="bold">2024</text>
<text x="985.0" y="531">Jul</text>
<text x="1019.8" y="531" font-weight="bold">2025</text>
<text x="1054.6" y="531">Jul</text>
<text x="1089.4" y="531" font-weight="bold">2026</text>
<text x="1124.2" y="531">Jul</text>
<text x="1159.0" y="531" font-weight="bold">2027</text>
</g></g>
<g transform="translate(985,400)">
<polygon points="9.8,20 22.6,8.3 32.6,19.6" fill="#a6c0e0"/>
<polygon points="24,8.1 44.6,8.1 34.2,19.4" fill="#f3bab2"/>
<polygon points="46,8.3 58.6,20 35.8,19.6" fill="#a6c0e0"/>
<polygon points="9.8,21.3 31.8,21.3 23.6,32.4" fill="#f3bab2"/>
<polygon points="36.4,21.3 58.6,21.3 44.8,32.4" fill="#f3bab2"/>
<polygon points="23.4,33.6 45,33.6 34,45.6" fill="#a6c0e0"/>
</g>
<text x="1048.6" y="437" font-family="'Liberation Sans', sans-serif" font-weight="bold" font-size="41.2" fill="#b2c8e5" textLength="80" lengthAdjust="spacingAndGlyphs">HCT</text>
<circle cx="1092.3" cy="422.3" r="2.8" fill="#b2c8e5"/>
<text x="1050.5" y="444.3" font-family="'Liberation Sans', sans-serif" font-size="3.4" fill="#c3d4ea" textLength="77" lengthAdjust="spacingAndGlyphs">HIỆN ĐẠI HÓA TRI - LINH TẾ THÀNH CÔNG</text>
<rect x="1008" y="456.5" width="113" height="32.5" fill="#d3e2f1"/>
<g font-family="'Liberation Sans', sans-serif" font-size="13.5" fill="#e9a3b3" text-anchor="middle"><text x="1064.5" y="469.6" textLength="106" lengthAdjust="spacingAndGlyphs">Nhật Nam - HCT</text><text x="1062" y="484.5" textLength="94" lengthAdjust="spacingAndGlyphs">0967 024 910</text></g>
<text x="1028" y="539.9" font-family="'Liberation Sans', sans-serif" font-size="13.4" fill="#bdbdbd" textLength="99.5" lengthAdjust="spacingAndGlyphs">Activate Windows</text>
<g font-family="'Liberation Sans', sans-serif" font-size="7.9" fill="#20242f" stroke="#20242f" stroke-width="0.12">
<text x="3.7" y="7.7" textLength="239" lengthAdjust="spacingAndGlyphs">NNHCT created with TradingView.com, Jul 24, 2025 07:17 UTC+5:30</text>
<text x="8.3" y="25.8" textLength="292" lengthAdjust="spacingAndGlyphs" xml:space="preserve">Silver Futures · 1M · COMEX  O<tspan fill="#089981" stroke="#089981">36.325</tspan>  H<tspan fill="#089981" stroke="#089981">39.910</tspan>  L<tspan fill="#089981" stroke="#089981">36.055</tspan>  C<tspan fill="#089981" stroke="#089981">39.440</tspan>  <tspan fill="#089981" stroke="#089981">+3.270 (+9.03%)</tspan></text>
<text x="8.3" y="37.3" textLength="122.5" lengthAdjust="spacingAndGlyphs" xml:space="preserve">MA Cross (50, 200)  <tspan fill="#f57c00" stroke="#f57c00">25.859</tspan>  <tspan fill="#43a047" stroke="#43a047">22.018</tspan></text>
</g>
</svg>
</body></html>
